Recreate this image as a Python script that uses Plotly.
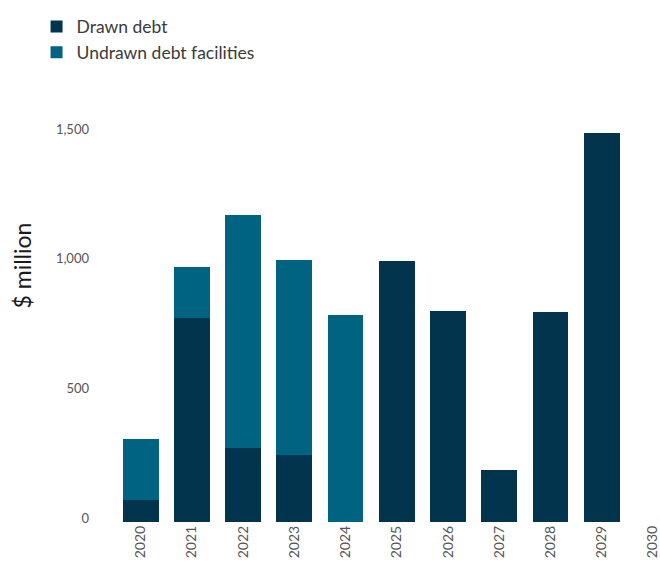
import plotly.graph_objects as go

# Debt maturity profile, $ million
years = ["2020", "2021", "2022", "2023", "2024", "2025", "2026", "2027", "2028", "2029", "2030"]
drawn_debt = [85, 785, 285, 260, 0, 1005, 815, 200, 810, 1500, 0]
undrawn_facilities = [235, 200, 900, 750, 800, 0, 0, 0, 0, 0, 0]
y_ticks = [0, 500, 1000, 1500]
y_tick_labels = ["0", "500", "1,000", "1,500"]

DARK = "#02344d"
TEAL = "#006382"
FONT = "Lato"

fig = go.Figure()
fig.add_trace(go.Bar(x=years, y=drawn_debt, name="Drawn debt",
                     marker=dict(color=DARK, line=dict(width=0))))
fig.add_trace(go.Bar(x=years, y=undrawn_facilities, name="Undrawn debt facilities",
                     marker=dict(color=TEAL, line=dict(width=0))))

fig.update_layout(
    width=660, height=561,
    barmode="stack", bargap=0.3,
    plot_bgcolor="white", paper_bgcolor="white",
    margin=dict(l=115, r=0, t=106.5, b=39.3),
    font=dict(family=FONT, color="#555555"),
    showlegend=True,
    legend=dict(
        x=-0.145, y=1.237, xanchor="left", yanchor="top",
        font=dict(family=FONT, size=17.5, color="#3a3a3a"),
        bgcolor="rgba(0,0,0,0)", traceorder="normal",
    ),
    xaxis=dict(
        type="category", categoryorder="array", categoryarray=years,
        range=[-0.5, 10.06], showgrid=False, zeroline=False, showline=False,
        tickangle=-90, ticks="", tickfont=dict(family=FONT, size=14, color="#555555"),
    ),
    yaxis=dict(
        range=[0, 1600], showgrid=False, zeroline=False, showline=False,
        tickvals=y_ticks, ticktext=y_tick_labels, ticks="",
        ticklabelstandoff=25, ticklabelshift=-4,
        tickfont=dict(family=FONT, size=13, color="#555555"),
    ),
    annotations=[dict(
        text="$ million", textangle=-90, showarrow=False,
        xref="paper", yref="paper", x=-0.172, y=0.618,
        xanchor="center", yanchor="middle",
        font=dict(family=FONT, size=23, color="#1a1a1a"),
    )],
)

fig.write_html("out.html")
